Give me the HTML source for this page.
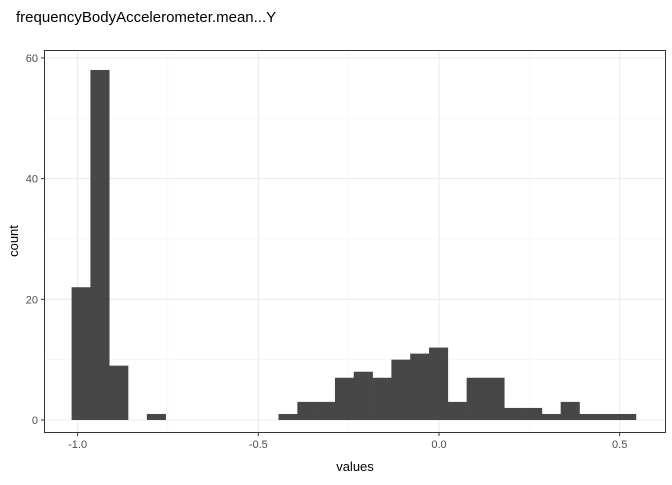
<!DOCTYPE html>
<html><head><meta charset="utf-8"><style>
body{margin:0;background:#fff;font-family:"Liberation Sans",Arial,sans-serif}
</style></head><body>
<svg id="chart" width="672" height="480" xmlns="http://www.w3.org/2000/svg">
<text x="16" y="22" font-size="15" fill="#000">frequencyBodyAccelerometer.mean...Y</text>
<rect x="44.5" y="50.5" width="621" height="382" fill="#fff" stroke="none"/>
<g id="grid"></g><g id="bars"></g>
<rect x="44.5" y="50.5" width="621" height="382" fill="none" stroke="#333" stroke-width="1"/>
<g id="axes"></g>
<text x="355" y="471" font-size="13" text-anchor="middle">values</text>
<text x="0" y="0" font-size="13" text-anchor="middle" transform="translate(18,241) rotate(-90)">count</text>
</svg>
<script>
const counts=[22,58,9,0,1,0,0,0,0,0,0,1,3,3,7,8,7,10,11,12,3,7,7,2,2,1,3,1,1,1];
const binStart=-1.0166;
const binWidth=0.05205;
const xTicks=[-1.0,-0.5,0.0,0.5];
const xTickLabels=["-1.0","-0.5","0.0","0.5"];
const yTicks=[0,20,40,60];
const xMinor=[-0.75,-0.25,0.25];
const yMinor=[10,30,50];
const X=v=>439+(v)*361.4;
const Y=v=>420-v*6.035;
const ns="http://www.w3.org/2000/svg";
function mk(t,a,p){const e=document.createElementNS(ns,t);for(const k in a)e.setAttribute(k,a[k]);p.appendChild(e);return e;}
const grid=document.getElementById('grid'),bars=document.getElementById('bars'),axes=document.getElementById('axes');
xMinor.forEach(v=>{const l=mk('line',{x1:X(v),x2:X(v),y1:51,y2:432,stroke:'#f2f2f2','stroke-width':0.6},grid);

});
yMinor.forEach(v=>{const l=mk('line',{x1:45,x2:665,y1:Y(v),y2:Y(v),stroke:'#f2f2f2','stroke-width':0.6},grid);

});
xTicks.forEach((v,i)=>{const l=mk('line',{x1:X(v),x2:X(v),y1:51,y2:432,stroke:'#ebebeb','stroke-width':1.1},grid);


const t=mk('line',{x1:X(v),x2:X(v),y1:433,y2:436,stroke:'#333'},axes);


const tx=mk('text',{x:X(v),y:448,'font-size':11,'text-anchor':'middle',fill:'#4d4d4d'},axes);tx.textContent=xTickLabels[i];

});
yTicks.forEach(v=>{const l=mk('line',{x1:45,x2:665,y1:Y(v),y2:Y(v),stroke:'#ebebeb','stroke-width':1.1},grid);


const t=mk('line',{x1:41,x2:44,y1:Y(v),y2:Y(v),stroke:'#333'},axes);


const tx=mk('text',{x:38,y:Y(v)+4,'font-size':11,'text-anchor':'end',fill:'#4d4d4d'},axes);tx.textContent=v;

});
counts.forEach((c,i)=>{if(!c)return;const x0=X(binStart+i*binWidth),x1=X(binStart+(i+1)*binWidth);
const r=mk('rect',{x:x0,y:Y(c),width:x1-x0+0.3,height:Y(0)-Y(c),fill:'#474747'},bars);

});
</script>
</body></html>
